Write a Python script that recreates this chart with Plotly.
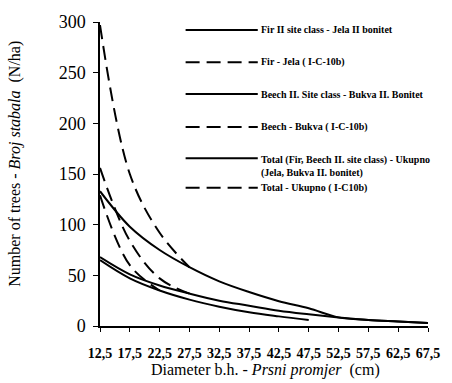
import plotly.graph_objects as go

# Diameter class centres (cm) and their axis labels
diameters = [12.5, 17.5, 22.5, 27.5, 32.5, 37.5, 42.5, 47.5, 52.5, 57.5, 62.5, 67.5]
diameter_labels = ["12,5", "17,5", "22,5", "27,5", "32,5", "37,5",
                   "42,5", "47,5", "52,5", "57,5", "62,5", "67,5"]

# Number of trees per hectare
fir_site2 = [68, 51, 40, 32, 25, 20, 15, 11.5, 8.5, 6, 4.5, 3]
beech_site2 = [65, 47, 35, 26, 19, 13.5, 9.5, 6]
total_site2 = [133, 98, 75, 58, 44, 33.5, 24.5, 17.5, 8.5, 6, 4.5, 3]

fir_ic10b = [156, 84, 47, 32]
beech_ic10b = [129, 60, 35]
total_ic10b = [297, 150, 92, 58]

y_ticks = [0, 50, 100, 150, 200, 250, 300]

legend_names = [
    "Fir II site class - Jela II bonitet",
    "Fir - Jela ( I-C-10b)",
    "Beech II. Site class - Bukva II. Bonitet",
    "Beech - Bukva ( I-C-10b)",
    "Total (Fir, Beech II. site class) - Ukupno<br>(Jela, Bukva II. bonitet)",
    "Total - Ukupno ( I-C10b)",
]

DASH = "14px,7px"
SERIF = "Liberation Serif, Times New Roman, serif"

series = [
    (fir_site2, "solid"),
    (fir_ic10b, DASH),
    (beech_site2, "solid"),
    (beech_ic10b, DASH),
    (total_site2, "solid"),
    (total_ic10b, DASH),
]

fig = go.Figure()
for (vals, dash), name in zip(series, legend_names):
    fig.add_trace(go.Scatter(
        x=diameters[:len(vals)], y=vals, mode="lines", name=name,
        line=dict(color="black", width=2, dash=dash, shape="spline", smoothing=1),
        showlegend=False, hoverinfo="skip",
    ))

# Hand-drawn key with long line samples
row_y = [0.974, 0.868, 0.763, 0.655, 0.552, 0.455]
for (vals, dash), name, ry in zip(series, legend_names, row_y):
    fig.add_shape(type="line", xref="paper", yref="paper",
                  x0=0.261, x1=0.481, y0=ry, y1=ry,
                  line=dict(color="black", width=2, dash=dash))
    multi = "<br>" in name
    fig.add_annotation(xref="paper", yref="paper", x=0.484,
                       y=ry + (0.022 if multi else 0),
                       xanchor="left", yanchor="top" if multi else "middle",
                       align="left", showarrow=False,
                       text="<b>" + name.replace("<br>", "</b><br><b>") + "</b>",
                       font=dict(family=SERIF, size=10, color="black"))

# Axis titles
fig.add_annotation(xref="paper", yref="paper", x=0.504, y=-0.145,
                   xanchor="center", yanchor="middle", showarrow=False,
                   text="Diameter b.h. - <i>Prsni promjer</i>  (cm)",
                   font=dict(family=SERIF, size=16, color="black"))
fig.add_annotation(xref="paper", yref="paper", x=-0.258, y=0.535,
                   xanchor="center", yanchor="middle", showarrow=False,
                   textangle=-90,
                   text="Number of trees - <i>Broj stabala</i>  (N/ha)",
                   font=dict(family=SERIF, size=16, color="black"))

fig.update_xaxes(
    range=[diameters[0], diameters[-1]], tickvals=diameters, ticktext=diameter_labels,
    showline=True, linecolor="black", linewidth=1.5, ticks="outside", ticklen=4,
    tickcolor="black", showgrid=False, zeroline=False, ticklabelstandoff=9,
    tickfont=dict(family=SERIF, size=14, color="black", weight="bold"),
)
fig.update_yaxes(
    range=[0, 300], tickvals=y_ticks,
    showline=True, linecolor="black", linewidth=1.5, ticks="outside", ticklen=5,
    tickcolor="black", showgrid=False, zeroline=False, ticklabelstandoff=4,
    tickfont=dict(family=SERIF, size=18, color="black"),
)

fig.update_layout(
    width=452, height=383,
    margin=dict(l=100, r=15, t=16, b=57),
    paper_bgcolor="white", plot_bgcolor="white",
    showlegend=False,
)

fig.write_html("out.html")
